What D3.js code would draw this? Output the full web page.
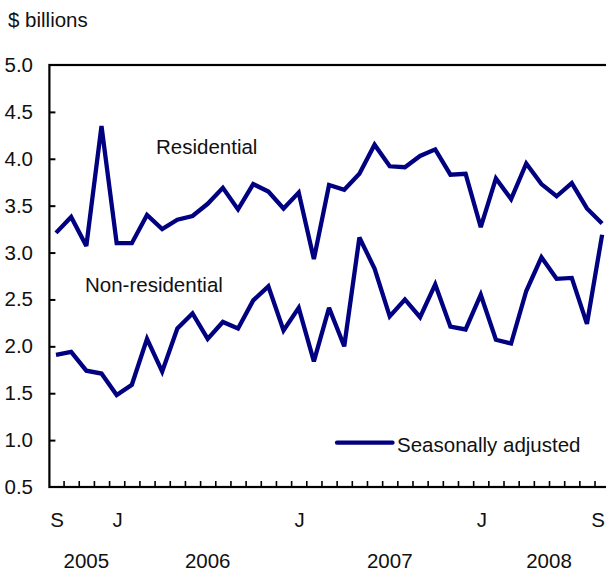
<!DOCTYPE html>
<html>
<head>
<meta charset="utf-8">
<script src="https://cdn.jsdelivr.net/npm/d3@7"></script>
<style>
  html, body { margin: 0; padding: 0; background: #fff; }
  svg { display: block; }
  text { font-family: "Liberation Sans", Arial, Helvetica, sans-serif; fill: #111; }
</style>
</head>
<body>
<svg id="chart" width="606" height="572"></svg>
<script>
// ---- data ----
const months = [
  "2005-09","2005-10","2005-11","2005-12",
  "2006-01","2006-02","2006-03","2006-04","2006-05","2006-06","2006-07","2006-08","2006-09","2006-10","2006-11","2006-12",
  "2007-01","2007-02","2007-03","2007-04","2007-05","2007-06","2007-07","2007-08","2007-09","2007-10","2007-11","2007-12",
  "2008-01","2008-02","2008-03","2008-04","2008-05","2008-06","2008-07","2008-08","2008-09"
];
const residential = [3.21,3.38,3.07,4.35,3.10,3.10,3.40,3.25,3.35,3.39,3.52,3.69,3.46,3.73,3.65,3.47,3.64,2.93,3.72,3.67,3.84,4.15,3.92,3.91,4.03,4.10,3.83,3.84,3.27,3.79,3.57,3.95,3.73,3.60,3.74,3.47,3.31];
const nonResidential = [1.91,1.94,1.74,1.71,1.48,1.59,2.08,1.73,2.19,2.35,2.08,2.26,2.19,2.49,2.64,2.17,2.41,1.84,2.41,2.00,3.16,2.83,2.32,2.50,2.31,2.66,2.21,2.18,2.55,2.07,2.03,2.59,2.95,2.72,2.73,2.24,3.19];
const yTicks = [0.5,1.0,1.5,2.0,2.5,3.0,3.5,4.0,4.5,5.0];
const monthTickLabels = [
  { month: "2005-09", label: "S" },
  { month: "2006-01", label: "J" },
  { month: "2007-01", label: "J" },
  { month: "2008-01", label: "J" },
  { month: "2008-09", label: "S" }
];
const years = ["2005","2006","2007","2008"];
const seriesLabels = ["Residential","Non-residential"];
const legendLabel = "Seasonally adjusted";
const unitLabel = "$ billions";

// ---- layout ----
const svg = d3.select("#chart");
const plotL = 48.4, plotR = 609.7, plotT = 65, plotB = 487;
const color = "#000080";
const fs = 20.5;

const x = d3.scaleLinear().domain([-0.5, months.length - 0.5]).range([plotL, plotR]);
const y = d3.scaleLinear().domain([0.5, 5.0]).range([plotB, plotT]);

// frame
svg.append("rect")
  .attr("x", plotL + 1).attr("y", plotT)
  .attr("width", plotR - plotL).attr("height", plotB - plotT)
  .attr("fill", "none").attr("stroke", "#000").attr("stroke-width", 2.2);

// y ticks (inward)
const yAxis = d3.axisRight(y).tickValues(yTicks.filter(v => v > 0.5 && v < 5.0)).tickSize(6).tickFormat("");
svg.append("g").attr("transform", `translate(${plotL + 1},0)`).call(yAxis)
  .call(g => g.select(".domain").remove())
  .call(g => g.selectAll("line").attr("stroke", "#000").attr("stroke-width", 2));

// y labels
svg.append("g").selectAll("text").data(yTicks).join("text")
  .attr("x", 33).attr("y", d => y(d) + 7)
  .attr("text-anchor", "end").attr("font-size", fs)
  .text(d => d.toFixed(1));

// x ticks at month boundaries (inward)
const boundaries = d3.range(1, months.length).map(i => i - 0.5);
const xAxis = d3.axisTop(x).tickValues(boundaries).tickSize(6).tickFormat("");
svg.append("g").attr("transform", `translate(0,${plotB})`).call(xAxis)
  .call(g => g.select(".domain").remove())
  .call(g => g.selectAll("line").attr("stroke", "#000").attr("stroke-width", 1.6));

// month labels
svg.append("g").selectAll("text").data(monthTickLabels).join("text")
  .attr("x", d => Math.min(x(months.indexOf(d.month)) + 1, 598))
  .attr("y", 527)
  .attr("text-anchor", "middle").attr("font-size", fs)
  .text(d => d.label);

// year labels
svg.append("g").selectAll("text").data(years).join("text")
  .attr("x", yr => {
    const idx = months.map((m, i) => [m, i]).filter(([m]) => m.startsWith(yr)).map(([, i]) => i);
    return x(d3.mean(idx) + 0.5);
  })
  .attr("y", 568)
  .attr("text-anchor", "middle").attr("font-size", fs)
  .text(d => d);

// unit label
svg.append("text").attr("x", 8).attr("y", 26.5).attr("font-size", fs).text(unitLabel);

// lines
const line = d3.line().x((d, i) => x(i)).y(d => y(d)).curve(d3.curveLinear);
[residential, nonResidential].forEach(series => {
  svg.append("path").datum(series)
    .attr("d", line)
    .attr("fill", "none").attr("stroke", color)
    .attr("stroke-width", 4.3).attr("stroke-linejoin", "miter").attr("stroke-miterlimit", 3)
    .attr("stroke-linecap", "butt");
});

// series labels
svg.append("text").attr("x", 156).attr("y", 154).attr("font-size", fs).text(seriesLabels[0]);
svg.append("text").attr("x", 85).attr("y", 291.5).attr("font-size", fs).text(seriesLabels[1]);

// legend
svg.append("line").attr("x1", 337).attr("x2", 392.5).attr("y1", 442.7).attr("y2", 442.7)
  .attr("stroke", color).attr("stroke-width", 4.3).attr("stroke-linecap", "round");
svg.append("text").attr("x", 397).attr("y", 451.5).attr("font-size", fs).text(legendLabel);
</script>
</body>
</html>
